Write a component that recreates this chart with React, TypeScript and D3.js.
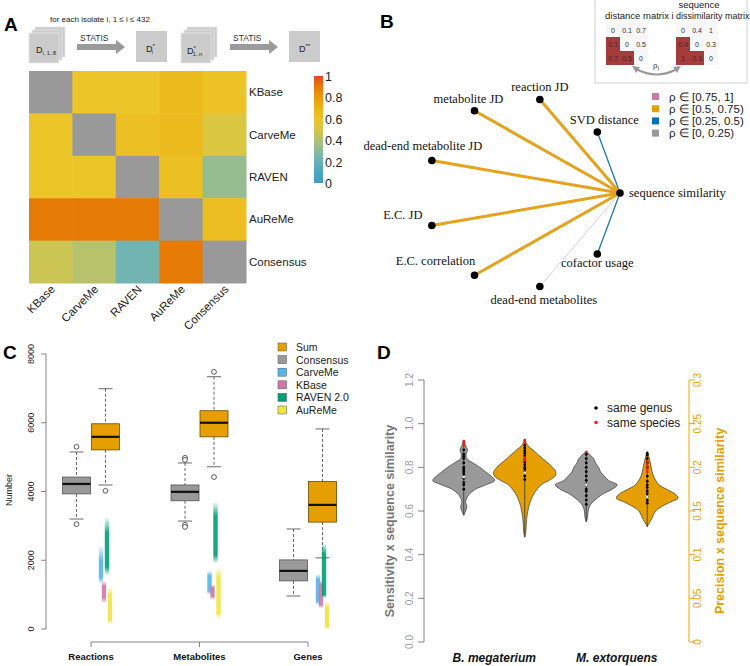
import React from "react";
import * as d3 from "d3";

// ---------- Panel A: RV coefficients between tools
const models = ["KBase", "CarveMe", "RAVEN", "AuReMe", "Consensus"];
const rvMatrix: (number | null)[][] = [
  [null, 0.6, 0.6, 0.66, 0.62],
  [0.6, null, 0.63, 0.66, 0.52],
  [0.6, 0.6, null, 0.63, 0.33],
  [0.9, 0.9, 0.9, null, 0.64],
  [0.47, 0.42, 0.23, 0.9, null],
];
const colorTicks = [0, 0.2, 0.4, 0.6, 0.8, 1];
const colorStops = [0, 0.1, 0.2, 0.3, 0.4, 0.5, 0.6, 0.7, 0.8, 0.9, 1];
const colorRange = [
  "#3a9fbf", "#4aa7c0", "#66b1ba", "#8abb9c", "#b1c174", "#d6c646",
  "#ecc528", "#ebb416", "#e99c08", "#e67b06", "#e8461c",
];

// ---------- Panel B: correlation of each distance with sequence similarity
const measures = [
  "sequence similarity", "SVD distance", "reaction JD", "metabolite JD",
  "dead-end metabolite JD", "E.C. JD", "E.C. correlation",
  "dead-end metabolites", "cofactor usage",
];
const rhoToSeq = [1, 0.34, 0.61, 0.63, 0.56, 0.58, 0.6, 0.12, 0.31];
const rhoBins = ["ρ ∈ [0.75, 1]", "ρ ∈ [0.5, 0.75)", "ρ ∈ [0.25, 0.5)", "ρ ∈ [0, 0.25)"];
const rhoBreaks = [0.75, 0.5, 0.25, 0];
const rhoColors = ["#cc79a7", "#e69f00", "#0072b2", "#999999"];
const distMatrix = [[0, 0.1, 0.7], [0.1, 0, 0.5], [0.7, 0.5, 0]];
const seqMatrix = [[0, 0.4, 1], [0.4, 0, 0.3], [1, 0.3, 0]];

// ---------- Panel C: model sizes
const featureGroups = ["Reactions", "Metabolites", "Genes"];
// [lower whisker, q1, median, q3, upper whisker]
const consensusStats = [
  [3200, 3930, 4220, 4420, 5150],
  [3140, 3730, 3990, 4190, 4830],
  [960, 1400, 1690, 2010, 2910],
];
const consensusOutliers = [[5300, 3050], [4980, 4920, 3030, 2970], []];
const sumStats = [
  [4190, 5210, 5590, 5970, 6990],
  [4720, 5590, 6000, 6350, 7340],
  [2070, 3110, 3610, 4290, 5820],
];
const sumOutliers = [[4020], [7480, 4420], []];
const toolNames = ["CarveMe", "KBase", "RAVEN 2.0", "AuReMe"];
// per group, per tool: [min, q1, q3, max]
const toolSpread = [
  [[1300, 1500, 2000, 2450], [750, 900, 1250, 1400], [1550, 1800, 2800, 3250], [150, 250, 1000, 1250]],
  [[1000, 1100, 1550, 1700], [850, 950, 1200, 1300], [1900, 2150, 3300, 3700], [300, 450, 1500, 1800]],
  [[700, 800, 1450, 1600], [600, 700, 1300, 1400], [900, 1000, 2200, 2500], [0, 60, 650, 800]],
];
const legendC = ["Sum", "Consensus", "CarveMe", "KBase", "RAVEN 2.0", "AuReMe"];
const legendCColors = ["#e69f00", "#999999", "#56b4e9", "#cc79a7", "#009e73", "#f0e442"];
const countTicks = [0, 2000, 4000, 6000, 8000];

// ---------- Panel D: violins
const organisms = ["B. megaterium", "M. extorquens"];
// [value, relative density]
const sensDensity = [
  [[0.58, 0], [0.6, 0.06], [0.62, 0.1], [0.64, 0.06], [0.66, 0.1], [0.68, 0.2], [0.7, 0.38], [0.72, 0.72], [0.74, 1], [0.76, 0.88], [0.78, 0.7], [0.8, 0.52], [0.82, 0.3], [0.84, 0.1], [0.86, 0.08], [0.88, 0.12], [0.9, 0.06], [0.92, 0]],
  [[0.55, 0], [0.57, 0.04], [0.6, 0.06], [0.62, 0.1], [0.64, 0.2], [0.66, 0.36], [0.68, 0.56], [0.7, 0.84], [0.72, 1], [0.74, 0.72], [0.76, 0.58], [0.78, 0.46], [0.8, 0.4], [0.82, 0.3], [0.84, 0.24], [0.86, 0.1], [0.875, 0]],
];
const precDensity = [
  [[0.12, 0], [0.125, 0.03], [0.14, 0.06], [0.15, 0.1], [0.16, 0.17], [0.17, 0.3], [0.18, 0.53], [0.185, 0.78], [0.19, 0.98], [0.195, 1], [0.2, 0.9], [0.21, 0.58], [0.22, 0.26], [0.225, 0.1], [0.232, 0]],
  [[0.132, 0], [0.136, 0.06], [0.14, 0.13], [0.15, 0.27], [0.155, 0.46], [0.16, 0.73], [0.165, 1], [0.17, 0.88], [0.175, 0.62], [0.18, 0.38], [0.19, 0.2], [0.2, 0.13], [0.21, 0.07], [0.218, 0]],
];
const sensGenus = [
  [0.7, 0.72, 0.73, 0.75, 0.77, 0.78, 0.79, 0.8, 0.82, 0.84, 0.85, 0.86, 0.88],
  [0.63, 0.65, 0.67, 0.69, 0.7, 0.72, 0.74, 0.76, 0.78, 0.8, 0.82, 0.84, 0.86],
];
const sensSpecies = [[0.9, 0.91, 0.92], [0.87]];
const precGenus = [
  [0.186, 0.19, 0.195, 0.198, 0.2, 0.203, 0.206, 0.209, 0.213, 0.216, 0.219, 0.222, 0.225],
  [0.159, 0.162, 0.166, 0.17, 0.173, 0.177, 0.18, 0.184, 0.19, 0.2, 0.205, 0.21, 0.214, 0.216],
];
const precSpecies = [[0.208, 0.211, 0.228, 0.231], [0.195, 0.198, 0.201, 0.204, 0.207]];
const sensMedian = [0.755, 0.72];
const precMedian = [0.194, 0.166];
const sensTicks = [0, 0.2, 0.4, 0.6, 0.8, 1.0, 1.2];
const precTicks = [0, 0.05, 0.1, 0.15, 0.2, 0.25, 0.3];
const legendD = ["same genus", "same species"];

const SANS = "'Liberation Sans', Arial, sans-serif";
const SERIF = "'Liberation Serif', 'Times New Roman', serif";

const Stack = ({ x, y, n }: { x: number; y: number; n: number }) => (
  <g>
    {d3.range(n).map((k) => (
      <rect key={k} x={x + (n - 1 - k) * 3} y={y + k * 3} width={30} height={30}
        fill="#cbcbcb" stroke="#e6e6e6" strokeWidth={0.8} />
    ))}
  </g>
);

const Arrow = ({ x, y }: { x: number; y: number }) => (
  <g fill="#9a9a9a">
    <rect x={x} y={y - 3} width={39} height={6} />
    <polygon points={`${x + 39},${y - 7} ${x + 48},${y} ${x + 39},${y + 7}`} />
    <text x={x + 3} y={y - 6} fontSize={8.5} fill="#333" fontFamily={SANS}>STATIS</text>
  </g>
);

const App: React.FC = () => {
  // ----- A
  const hmX = d3.scaleBand<string>().domain(models).range([29, 246]);
  const hmY = d3.scaleBand<string>().domain(models).range([71, 283]);
  const heatColor = d3.scaleLinear<string>().domain(colorStops).range(colorRange).clamp(true);
  const cbY = d3.scaleLinear().domain([0, 1]).range([183, 76]);

  // ----- B
  const angle = d3.scaleLinear().domain([0, measures.length]).range([0, 2 * Math.PI]);
  const nodes = measures.map((m, i) => ({
    name: m,
    x: 523 + 97 * Math.cos(angle(i)),
    y: 193 - 95 * Math.sin(angle(i)),
    rho: rhoToSeq[i],
  }));
  const rhoClass = (r: number) => rhoBreaks.findIndex((b) => r >= b);
  const edgeWidth = [3, 3, 1.3, 1];
  const edgeColor = ["#cc79a7", "#e5a21c", "#1f78b4", "#d2d2d2"];
  const labelPlace: Record<string, [number, number, string]> = {
    "sequence similarity": [9, 4, "start"],
    "SVD distance": [7, -8, "middle"],
    "reaction JD": [0, -8, "middle"],
    "metabolite JD": [-6, -8, "middle"],
    "dead-end metabolite JD": [-9, -11, "middle"],
    "E.C. JD": [-29, -6, "middle"],
    "E.C. correlation": [-39, -10, "middle"],
    "dead-end metabolites": [4, 17, "middle"],
    "cofactor usage": [0, 13, "middle"],
  };
  const cell = d3.scaleBand<number>().domain([0, 1, 2]).range([0, 42]);

  // ----- C
  const cY = d3.scaleLinear().domain([0, 8000]).range([629, 354]);
  const cX = d3.scalePoint<string>().domain(featureGroups).range([91, 308]);
  const stripX = d3.scalePoint<string>().domain(toolNames).range([-4.5, 4.5]);
  const boxW = 28;
  const drawBox = (stats: number[], outl: number[], cx: number, fill: string, stroke: string, key: string) => {
    const [lo, q1, med, q3, hi] = stats;
    return (
      <g key={key}>
        <line x1={cx} x2={cx} y1={cY(hi)} y2={cY(q3)} stroke="#444" strokeDasharray="3,2" strokeWidth={0.8} />
        <line x1={cx} x2={cx} y1={cY(q1)} y2={cY(lo)} stroke="#444" strokeDasharray="3,2" strokeWidth={0.8} />
        <line x1={cx - 7} x2={cx + 7} y1={cY(hi)} y2={cY(hi)} stroke="#444" strokeWidth={0.8} />
        <line x1={cx - 7} x2={cx + 7} y1={cY(lo)} y2={cY(lo)} stroke="#444" strokeWidth={0.8} />
        <rect x={cx - boxW / 2} y={cY(q3)} width={boxW} height={cY(q1) - cY(q3)} fill={fill} stroke={stroke} strokeWidth={0.8} />
        <line x1={cx - boxW / 2} x2={cx + boxW / 2} y1={cY(med)} y2={cY(med)} stroke="#111" strokeWidth={2.2} />
        {outl.map((o, k) => (
          <circle key={k} cx={cx} cy={cY(o)} r={2.4} fill="white" stroke="#333" strokeWidth={0.8} />
        ))}
      </g>
    );
  };

  // ----- D
  const sY = d3.scaleLinear().domain([0, 1.2]).range([642, 380]);
  const pY = d3.scaleLinear().domain([0, 0.3]).range([642, 380]);
  const dX = d3.scaleBand<string>().domain(organisms).range([433, 678]);
  const halfW = d3.scaleLinear().domain([0, 1]).range([0, 31]);
  const violin = (dens: number[][], cx: number, ys: d3.ScaleLinear<number, number>) =>
    d3.area<number[]>()
      .y((d) => ys(d[0]))
      .x0((d) => cx - halfW(d[1]))
      .x1((d) => cx + halfW(d[1]))
      .curve(d3.curveCatmullRom)(dens) as string;
  const drawViolin = (
    dens: number[][], genus: number[], species: number[], med: number,
    cx: number, ys: d3.ScaleLinear<number, number>, fill: string, key: string
  ) => (
    <g key={key}>
      <path d={violin(dens, cx, ys)} fill={fill} stroke="#3a3a3a" strokeWidth={0.7} />
      <line x1={cx} x2={cx} y1={ys(dens[0][0])} y2={ys(dens[dens.length - 1][0])} stroke="#333" strokeWidth={0.8} />
      {genus.map((v, k) => <circle key={"g" + k} cx={cx} cy={ys(v)} r={1.4} fill="#000" />)}
      {species.map((v, k) => <circle key={"s" + k} cx={cx} cy={ys(v)} r={1.4} fill="#e8231f" />)}
      <circle cx={cx} cy={ys(med)} r={1.2} fill="#fff" />
    </g>
  );

  return (
    <svg width={750} height={666} viewBox="0 0 750 666"
      style={{ position: "absolute", left: 0, top: 0, background: "#fff" }} fontFamily={SANS}>
      <defs>
        <linearGradient id="cbar" x1="0" y1="1" x2="0" y2="0">
          {colorStops.map((s, i) => <stop key={i} offset={s} stopColor={colorRange[i]} />)}
        </linearGradient>
        {toolSpread.map((grp, gi) =>
          grp.map((t, ti) => (
            <linearGradient key={`${gi}-${ti}`} id={`strip-${gi}-${ti}`} gradientUnits="userSpaceOnUse"
              x1="0" x2="0" y1={cY(t[3])} y2={cY(t[0])}>
              <stop offset={0} stopColor={legendCColors[ti + 2]} stopOpacity={0} />
              <stop offset={(t[3] - t[2]) / (t[3] - t[0])} stopColor={legendCColors[ti + 2]} stopOpacity={0.9} />
              <stop offset={(t[3] - t[1]) / (t[3] - t[0])} stopColor={legendCColors[ti + 2]} stopOpacity={0.9} />
              <stop offset={1} stopColor={legendCColors[ti + 2]} stopOpacity={0} />
            </linearGradient>
          ))
        )}
      </defs>

      {/* ================= Panel A ================= */}
      <text x={4} y={31} fontSize={19} fontWeight="bold">A</text>
      <text x={50} y={22} fontSize={8} fill="#222">for each isolate i, 1 ≤ i ≤ 432</text>
      <Stack x={29} y={27} n={3} />
      <text x={36} y={53} fontSize={9} fill="#222">D<tspan fontSize={5.5} dy={2}>i, 1..8</tspan></text>
      <Arrow x={77} y={47} />
      <rect x={136} y={31} width={31} height={31} fill="#cbcbcb" />
      <text x={146} y={52} fontSize={9} fill="#222">D<tspan fontSize={6} dy={-4}>*</tspan><tspan fontSize={5.5} dy={6} dx={-3}>i</tspan></text>
      <Stack x={181} y={27} n={3} />
      <text x={187} y={54} fontSize={9} fill="#222">D<tspan fontSize={6} dy={-4}>*</tspan><tspan fontSize={5.5} dy={6} dx={-3}>1..n</tspan></text>
      <Arrow x={230} y={47} />
      <rect x={289} y={31} width={31} height={31} fill="#cbcbcb" />
      <text x={299} y={52} fontSize={9} fill="#222">D<tspan fontSize={6} dy={-4}>**</tspan></text>

      {models.map((r, i) =>
        models.map((c, j) => {
          const v = rvMatrix[i][j];
          return (
            <rect key={`${i}-${j}`} x={hmX(c)} y={hmY(r)} width={hmX.bandwidth() + 0.5} height={hmY.bandwidth() + 0.5}
              fill={v === null ? "#999999" : heatColor(v)} />
          );
        })
      )}
      {models.map((r) => (
        <text key={r} x={249} y={(hmY(r) as number) + hmY.bandwidth() / 2 + 4} fontSize={11.5} fill="#222">{r}</text>
      ))}
      {models.map((c) => {
        const x = (hmX(c) as number) + hmX.bandwidth() / 2 + 5;
        return (
          <text key={c} x={x} y={290} fontSize={11.5} fill="#222" textAnchor="end"
            transform={`rotate(-45 ${x} 290)`}>{c}</text>
        );
      })}
      <rect x={314} y={cbY(1)} width={9} height={cbY(0) - cbY(1)} fill="url(#cbar)" />
      {colorTicks.map((t) => (
        <text key={t} x={325} y={cbY(t) + 5} fontSize={12.5} fill="#222">{t}</text>
      ))}

      {/* ================= Panel B ================= */}
      <text x={380} y={28} fontSize={19} fontWeight="bold">B</text>
      <rect x={595} y={-2} width={152} height={85} fill="#fff" stroke="#cfcfcf" strokeWidth={1} />
      <text x={605} y={19} fontSize={9.5} fill="#222">distance matrix i</text>
      <text x={699} y={8} fontSize={9.5} fill="#222" textAnchor="middle">sequence</text>
      <text x={676} y={19} fontSize={9} fill="#222">dissimilarity matrix</text>
      {[distMatrix, seqMatrix].map((m, mi) => {
        const ox = mi === 0 ? 606 : 676;
        return (
          <g key={mi} transform={`translate(${ox},23)`}>
            {m.map((row, i) =>
              row.map((v, j) => (
                <g key={`${i}-${j}`}>
                  <rect x={cell(j)} y={cell(i)} width={cell.bandwidth()} height={cell.bandwidth()}
                    fill={i > j ? "#a53b3b" : "#f7f7f7"} />
                  <text x={(cell(j) as number) + cell.bandwidth() / 2} y={(cell(i) as number) + cell.bandwidth() / 2 + 2.5}
                    fontSize={7} textAnchor="middle" fill="#333">{v}</text>
                </g>
              ))
            )}
          </g>
        );
      })}
      <path d="M636,69 Q657,80 677,69" fill="none" stroke="#9a9a9a" strokeWidth={2.2} />
      <polygon points="632,66 640,67 636,73" fill="#9a9a9a" />
      <polygon points="681,66 673,67 677,73" fill="#9a9a9a" />
      <text x={653} y={68} fontSize={9} fill="#333" fontFamily={SERIF}>ρ<tspan fontSize={6} dy={2}>i</tspan></text>

      {nodes.slice(1).map((n) => {
        const k = rhoClass(n.rho);
        return (
          <line key={n.name} x1={n.x} y1={n.y} x2={nodes[0].x} y2={nodes[0].y}
            stroke={edgeColor[k]} strokeWidth={edgeWidth[k]} />
        );
      })}
      {nodes.map((n) => {
        const [dx, dy, anchor] = labelPlace[n.name];
        return (
          <g key={n.name}>
            <circle cx={n.x} cy={n.y} r={3.8} fill="#000" />
            <text x={n.x + dx} y={n.y + dy} fontSize={12.5} fontFamily={SERIF} textAnchor={anchor} fill="#111">{n.name}</text>
          </g>
        );
      })}
      {rhoBins.map((b, i) => (
        <g key={b}>
          <rect x={652} y={93 + i * 12.2} width={7} height={7} fill={rhoColors[i]} />
          <text x={669} y={100.5 + i * 12.2} fontSize={11.5} fill="#222">{b}</text>
        </g>
      ))}

      {/* ================= Panel C ================= */}
      <text x={3} y={359} fontSize={19} fontWeight="bold">C</text>
      <line x1={46} x2={46} y1={cY(0)} y2={cY(8000)} stroke="#666" strokeWidth={0.8} />
      {countTicks.map((t) => (
        <g key={t}>
          <line x1={41} x2={46} y1={cY(t)} y2={cY(t)} stroke="#666" strokeWidth={0.8} />
          <text x={34} y={cY(t)} fontSize={9} textAnchor="middle" fill="#222"
            transform={`rotate(-90 34 ${cY(t)})`}>{t}</text>
        </g>
      ))}
      <text x={12} y={490} fontSize={9} textAnchor="middle" fill="#222" transform="rotate(-90 12 490)">Number</text>
      <line x1={cX("Reactions")} x2={cX("Genes")} y1={642} y2={642} stroke="#666" strokeWidth={0.8} />
      {featureGroups.map((g) => (
        <g key={g}>
          <line x1={cX(g)} x2={cX(g)} y1={642} y2={647} stroke="#666" strokeWidth={0.8} />
          <text x={cX(g)} y={660} fontSize={9.5} fontWeight="bold" textAnchor="middle" fill="#111">{g}</text>
        </g>
      ))}
      {featureGroups.map((g, gi) => (
        <g key={g}>
          {drawBox(consensusStats[gi], consensusOutliers[gi], (cX(g) as number) - 14.5, "#999999", "#555", "c" + gi)}
          {drawBox(sumStats[gi], sumOutliers[gi], (cX(g) as number) + 14.5, "#e69f00", "#6a4a00", "s" + gi)}
          {toolSpread[gi].map((t, ti) => (
            <rect key={ti} x={(cX(g) as number) + 14.5 + (stripX(toolNames[ti]) as number) - 2.2} y={cY(t[3])}
              width={4.4} height={cY(t[0]) - cY(t[3])} fill={`url(#strip-${gi}-${ti})`} />
          ))}
        </g>
      ))}
      {legendC.map((l, i) => (
        <g key={l}>
          <rect x={278} y={343 + i * 12.6} width={8.5} height={8} fill={legendCColors[i]} stroke="#555" strokeWidth={0.5} />
          <text x={296} y={351 + i * 12.6} fontSize={10.5} fill="#222">{l}</text>
        </g>
      ))}

      {/* ================= Panel D ================= */}
      <text x={377} y={359} fontSize={19} fontWeight="bold">D</text>
      <line x1={424} x2={424} y1={sY(0)} y2={sY(1.2)} stroke="#666" strokeWidth={0.8} />
      {sensTicks.map((t) => (
        <g key={t}>
          <line x1={418} x2={424} y1={sY(t)} y2={sY(t)} stroke="#666" strokeWidth={0.8} />
          <text x={413} y={sY(t)} fontSize={10} textAnchor="middle" fill="#9a9a9a"
            transform={`rotate(-90 413 ${sY(t)})`}>{t.toFixed(1)}</text>
        </g>
      ))}
      <line x1={689} x2={689} y1={pY(0)} y2={pY(0.3)} stroke="#e69f00" strokeWidth={0.9} />
      {precTicks.map((t) => (
        <g key={t}>
          <line x1={689} x2={695} y1={pY(t)} y2={pY(t)} stroke="#e69f00" strokeWidth={0.9} />
          <text x={701} y={pY(t)} fontSize={10} textAnchor="middle" fill="#e69f00"
            transform={`rotate(-90 701 ${pY(t)})`}>{t}</text>
        </g>
      ))}
      <text x={394} y={521} fontSize={12.5} fontWeight="bold" textAnchor="middle" fill="#777"
        transform="rotate(-90 394 521)">Sensitivity x sequence similarity</text>
      <text x={724} y={521} fontSize={12.5} fontWeight="bold" textAnchor="middle" fill="#e69f00"
        transform="rotate(-90 724 521)">Precision x sequence similarity</text>
      {organisms.map((o, oi) => {
        const c = (dX(o) as number) + dX.bandwidth() / 2;
        return (
          <g key={o}>
            {drawViolin(sensDensity[oi], sensGenus[oi], sensSpecies[oi], sensMedian[oi], c - 30.5, sY, "#999999", "s" + oi)}
            {drawViolin(precDensity[oi], precGenus[oi], precSpecies[oi], precMedian[oi], c + 30.5, pY, "#e69f00", "p" + oi)}
            <text x={c} y={662} fontSize={12} fontWeight="bold" fontStyle="italic" textAnchor="middle" fill="#111">{o}</text>
          </g>
        );
      })}
      {legendD.map((l, i) => (
        <g key={l}>
          <circle cx={596} cy={408 + i * 14.5} r={1.8} fill={i === 0 ? "#000" : "#e8231f"} />
          <text x={607} y={412 + i * 14.5} fontSize={12} fill="#222">{l}</text>
        </g>
      ))}
    </svg>
  );
};

export default App;
